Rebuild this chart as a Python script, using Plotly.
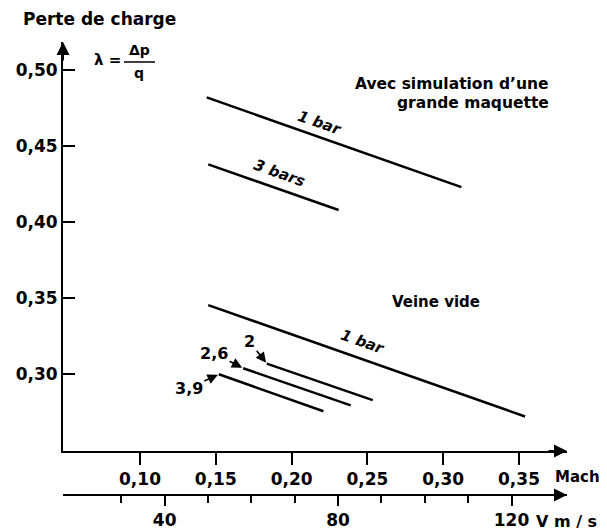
import plotly.graph_objects as go

# ---------------- data ----------------
mach_ticks = [0.10, 0.15, 0.20, 0.25, 0.30, 0.35]
mach_labels = ["0,10", "0,15", "0,20", "0,25", "0,30", "0,35"]
lam_ticks = [0.30, 0.35, 0.40, 0.45, 0.50]
lam_labels = ["0,30", "0,35", "0,40", "0,45", "0,50"]
v_ticks = [40, 80, 120]
v_labels = ["40", "80", "120"]
v_minor = [30, 50, 60, 70, 90, 100, 110]

# Avec simulation d'une grande maquette
gm_1bar_mach = [0.144, 0.312]
gm_1bar_lam = [0.482, 0.423]
gm_3bars_mach = [0.145, 0.231]
gm_3bars_lam = [0.438, 0.408]
# Veine vide
vv_1bar_mach = [0.145, 0.354]
vv_1bar_lam = [0.3455, 0.2723]
vv_2_mach = [0.1836, 0.2535]
vv_2_lam = [0.307, 0.283]
vv_26_mach = [0.168, 0.239]
vv_26_lam = [0.304, 0.2796]
vv_39_mach = [0.152, 0.221]
vv_39_lam = [0.300, 0.2757]

# ---------------- layout geometry (page pixels, page has 8px body margin) ----
OFF = 8
PAGE_W, PAGE_H = 607, 532
W, H = PAGE_W - OFF, PAGE_H - OFF
LEFT, RIGHT, TOP, BOTTOM = 63, 567, 42, 495      # plot area on the page
ML, MR, MT, MB = LEFT - OFF, PAGE_W - RIGHT, TOP - OFF, PAGE_H - BOTTOM
PW, PH = RIGHT - LEFT, BOTTOM - TOP
Y_DOM0 = (BOTTOM - 451) / PH


def px(x):
    return (x - LEFT) / PW


def py(y):
    return (BOTTOM - y) / PH


FONT = "DejaVu Sans"
LINE = dict(color="black", width=2.5)

fig = go.Figure()
for xs, ys in [(gm_1bar_mach, gm_1bar_lam), (gm_3bars_mach, gm_3bars_lam),
               (vv_1bar_mach, vv_1bar_lam), (vv_2_mach, vv_2_lam),
               (vv_26_mach, vv_26_lam), (vv_39_mach, vv_39_lam)]:
    fig.add_trace(go.Scatter(x=xs, y=ys, mode="lines", line=LINE,
                             hoverinfo="skip", showlegend=False))

# invisible trace on the velocity axis
fig.add_trace(go.Scatter(x=v_ticks, y=[None] * len(v_ticks), xaxis="x2",
                         mode="markers", marker=dict(opacity=0),
                         hoverinfo="skip", showlegend=False))

tickfont = dict(family=FONT, size=17, color="black", weight="bold")


def txt(text, x, y, size=16, xanchor="center", **kw):
    d = dict(text=text, x=px(x), y=py(y), xref="paper", yref="paper",
             xanchor=xanchor, yanchor="middle",
             showarrow=False, font=dict(family=FONT, size=size, color="black",
                                        weight="bold"))
    d.update(kw)
    return d


def italic(text, x, y, angle, size=15):
    return dict(text=text, x=px(x), y=py(y), xref="paper", yref="paper",
                xanchor="center", yanchor="middle",
                showarrow=False, textangle=angle,
                font=dict(family=FONT, size=size, color="black",
                          weight="bold", style="italic"))


def pointer(text, xs, ys, ax, ay):
    return dict(text=text, x=xs[0], y=ys[0], xref="x", yref="y",
                showarrow=True, ax=ax, ay=ay, arrowhead=2, arrowsize=1.3,
                arrowwidth=1.6, arrowcolor="black", standoff=1,
                startstandoff=0,
                font=dict(family=FONT, size=16, color="black", weight="bold"))


def axis_arrow(x, y, ax, ay):
    return dict(text="", x=x, y=y, xref="paper", yref="paper",
                showarrow=True, ax=ax, ay=ay, arrowhead=2, arrowsize=1.3,
                arrowwidth=2, arrowcolor="black")


annotations = [
    txt("Perte de charge", 99, 19, size=17),
    txt("λ =", 107, 60, size=15),
    txt("Δp", 139, 50, size=14),
    txt("q", 139, 73, size=14),
    txt("Avec simulation d’une", 551, 84, size=15.5, xanchor="right"),
    txt("grande maquette", 551, 103, size=15.5, xanchor="right"),
    txt("Veine vide", 436, 302, size=15),
    txt("Mach", 553, 477, size=15, xanchor="left"),
    txt("V m / s", 534, 521, size=16, xanchor="left"),
    italic("1 bar", 320, 123, 19),
    italic("3 bars", 279, 173, 20),
    italic("1 bar", 363, 342, 19.5),
    pointer("2", vv_2_mach, vv_2_lam, -17, -22),
    pointer("2,6", vv_26_mach, vv_26_lam, -29, -15),
    pointer("3,9", vv_39_mach, vv_39_lam, -30, 14),
    axis_arrow(0, 1, 0, 20),
    axis_arrow(1, Y_DOM0, -20, 0),
    axis_arrow(1, 0, -20, 0),
]

shapes = [
    dict(type="line", xref="paper", yref="paper", x0=px(124), x1=px(155),
         y0=py(62), y1=py(62), line=dict(color="black", width=1.5)),
]

fig.update_layout(
    width=W, height=H,
    margin=dict(l=ML, r=MR, t=MT, b=MB, autoexpand=False),
    paper_bgcolor="white", plot_bgcolor="white",
    showlegend=False,
    xaxis=dict(range=[0.10 + (LEFT - 140) / 1516, 0.10 + (RIGHT - 140) / 1516],
               anchor="y", showgrid=False, zeroline=False,
               showline=True, linecolor="black", linewidth=2,
               tickmode="array", tickvals=mach_ticks, ticktext=mach_labels,
               ticks="outside", ticklen=12, tickwidth=1.5, tickcolor="black",
               tickfont=tickfont),
    xaxis2=dict(range=[40 + (LEFT - 164.7) / 4.335, 40 + (RIGHT - 164.7) / 4.335],
                overlaying="x", anchor="free", position=0, side="bottom",
                showgrid=False, zeroline=False,
                showline=True, linecolor="black", linewidth=2,
                tickmode="array", tickvals=v_ticks, ticktext=v_labels,
                ticks="outside", ticklen=10, tickwidth=1.5, tickcolor="black",
                minor=dict(tickmode="array", tickvals=v_minor, ticks="outside",
                           ticklen=7, tickwidth=1.5, tickcolor="black"),
                tickfont=tickfont),
    yaxis=dict(domain=[Y_DOM0, 1],
               range=[0.50 - (451 - 70) / 1521.5, 0.50 + (70 - TOP) / 1521.5],
               showgrid=False, zeroline=False,
               showline=True, linecolor="black", linewidth=2,
               tickmode="array", tickvals=lam_ticks, ticktext=lam_labels,
               ticks="inside", ticklen=12, tickwidth=1.5, tickcolor="black",
               tickfont=tickfont),
    annotations=annotations,
    shapes=shapes,
)

fig.write_html("out.html")
